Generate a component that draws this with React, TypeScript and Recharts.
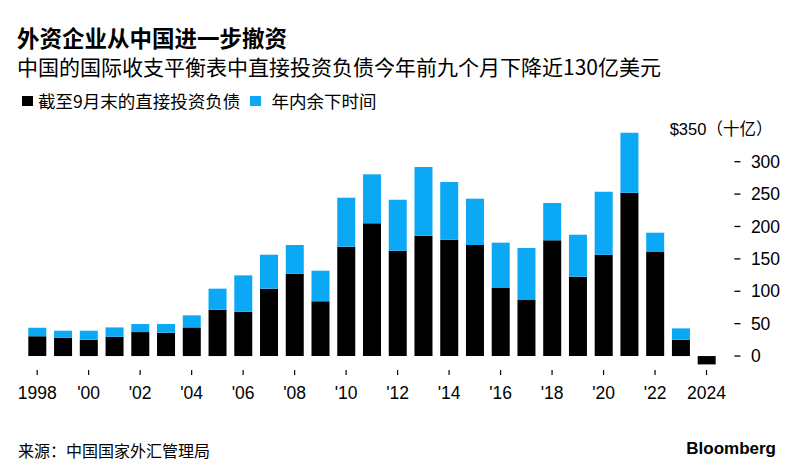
import React from "react";
import { BarChart, Bar, XAxis, YAxis } from "recharts";

const years = [1998, 1999, 2000, 2001, 2002, 2003, 2004, 2005, 2006, 2007, 2008, 2009, 2010, 2011, 2012, 2013, 2014, 2015, 2016, 2017, 2018, 2019, 2020, 2021, 2022, 2023, 2024];
const throughSept = [30.4, 28.3, 25.2, 29.8, 37, 36, 44.2, 71.5, 68.4, 104, 127, 84.4, 168.8, 204.8, 162.6, 185.8, 179.6, 171.4, 105, 86.5, 178.6, 122.5, 156.4, 252.2, 160.6, 25.2, -12.9];
const restOfYear = [13.3, 10.8, 13.9, 14.4, 12.4, 13.4, 18.6, 32.5, 56.1, 52.4, 44.4, 47.3, 75.6, 75.7, 78.8, 106, 89, 71.5, 70, 80.2, 57.6, 64.8, 97.3, 92.6, 29.8, 17.5, 0];
const xTickLabels: Record<number, string> = {
  1998: "1998", 2000: "'00", 2002: "'02", 2004: "'04", 2006: "'06", 2008: "'08", 2010: "'10",
  2012: "'12", 2014: "'14", 2016: "'16", 2018: "'18", 2020: "'20", 2022: "'22", 2024: "2024",
};
const yTicks = [0, 50, 100, 150, 200, 250, 300, 350];

const title = "外资企业从中国进一步撤资";
const subtitle = "中国的国际收支平衡表中直接投资负债今年前九个月下降近130亿美元";
const legendBlack = "截至9月末的直接投资负债";
const legendBlue = "年内余下时间";
const source = "来源：中国国家外汇管理局";

const BLUE = "#0aa8f5";
const FONT = "'Liberation Sans', 'Noto Sans CJK SC', sans-serif";
const CJK = "'Noto Sans CJK SC', 'Liberation Sans', sans-serif";

const data = years.map((y, i) => ({ year: y, a: throughSept[i], b: restOfYear[i] }));

const XTick = (props: any) => {
  const { x, y, payload } = props;
  const label = xTickLabels[payload.value];
  if (!label) return null;
  return (
    <g>
      <line x1={x} x2={x} y1={y + 1} y2={y + 6} stroke="#000" strokeWidth={1.2} />
      <text x={x} y={y + 30} textAnchor="middle" fontFamily={FONT} fontSize={17.5} fill="#000">
        {label}
      </text>
    </g>
  );
};

const YTick = (props: any) => {
  const { x, y, payload } = props;
  if (payload.value === 350) {
    return (
      <text x={x + 53} y={y} dy="0.35em" textAnchor="end" fontFamily={FONT} fontSize={16.5} fill="#000">
        $350（十亿）
      </text>
    );
  }
  return (
    <g>
      <line x1={x + 15} x2={x + 21} y1={y} y2={y} stroke="#000" strokeWidth={1.3} />
      <text x={x + 31.5} y={y} dy="0.35em" textAnchor="start" fontFamily={FONT} fontSize={17.5} fill="#000">
        {payload.value}
      </text>
    </g>
  );
};

export default function App() {
  return (
    <div style={{ position: "absolute", left: 0, top: 0, width: 800, height: 475, background: "#fff", overflow: "hidden" }}>
      <div style={{ position: "absolute", left: 17, top: 25.5, fontFamily: CJK, fontWeight: 700, fontSize: 22.5, lineHeight: "22.5px", color: "#000", whiteSpace: "nowrap" }}>
        {title}
      </div>
      <div style={{ position: "absolute", left: 17, top: 55.5, fontFamily: CJK, fontWeight: 400, fontSize: 21, lineHeight: "21px", color: "#000", whiteSpace: "nowrap" }}>
        {subtitle}
      </div>
      <div style={{ position: "absolute", left: 22, top: 96, width: 10.5, height: 10, background: "#000" }} />
      <div style={{ position: "absolute", left: 38, top: 92.3, fontFamily: CJK, fontSize: 17.5, lineHeight: "17.5px", color: "#000", whiteSpace: "nowrap" }}>
        {legendBlack}
      </div>
      <div style={{ position: "absolute", left: 250, top: 96, width: 10.5, height: 10, background: BLUE }} />
      <div style={{ position: "absolute", left: 271.5, top: 92.3, fontFamily: CJK, fontSize: 17.5, lineHeight: "17.5px", color: "#000", whiteSpace: "nowrap" }}>
        {legendBlue}
      </div>
      <div style={{ position: "absolute", left: 0, top: 0 }}>
        <BarChart
          width={800}
          height={475}
          data={data}
          margin={{ top: 129.3, right: 20.6, left: 24.3, bottom: 76 }}
          barCategoryGap="15.6%"
        >
          <XAxis
            dataKey="year"
            type="category"
            interval={0}
            axisLine={false}
            tickLine={false}
            tickSize={0}
            tickMargin={0}
            height={30}
            tick={<XTick />}
          />
          <YAxis
            orientation="right"
            type="number"
            domain={[-20, 350]}
            ticks={yTicks}
            interval={0}
            axisLine={false}
            tickLine={false}
            tickSize={0}
            tickMargin={0}
            width={60}
            tick={<YTick />}
          />
          <Bar dataKey="a" stackId="s" fill="#000" isAnimationActive={false} />
          <Bar dataKey="b" stackId="s" fill={BLUE} isAnimationActive={false} />
        </BarChart>
      </div>
      <div style={{ position: "absolute", left: 18, top: 442, fontFamily: CJK, fontSize: 16, lineHeight: "16px", color: "#000", whiteSpace: "nowrap" }}>
        {source}
      </div>
      <div style={{ position: "absolute", right: 24, top: 439.5, fontFamily: "'Liberation Sans', sans-serif", fontWeight: 700, fontSize: 17, lineHeight: "17px", color: "#000", whiteSpace: "nowrap" }}>
        Bloomberg
      </div>
    </div>
  );
}
